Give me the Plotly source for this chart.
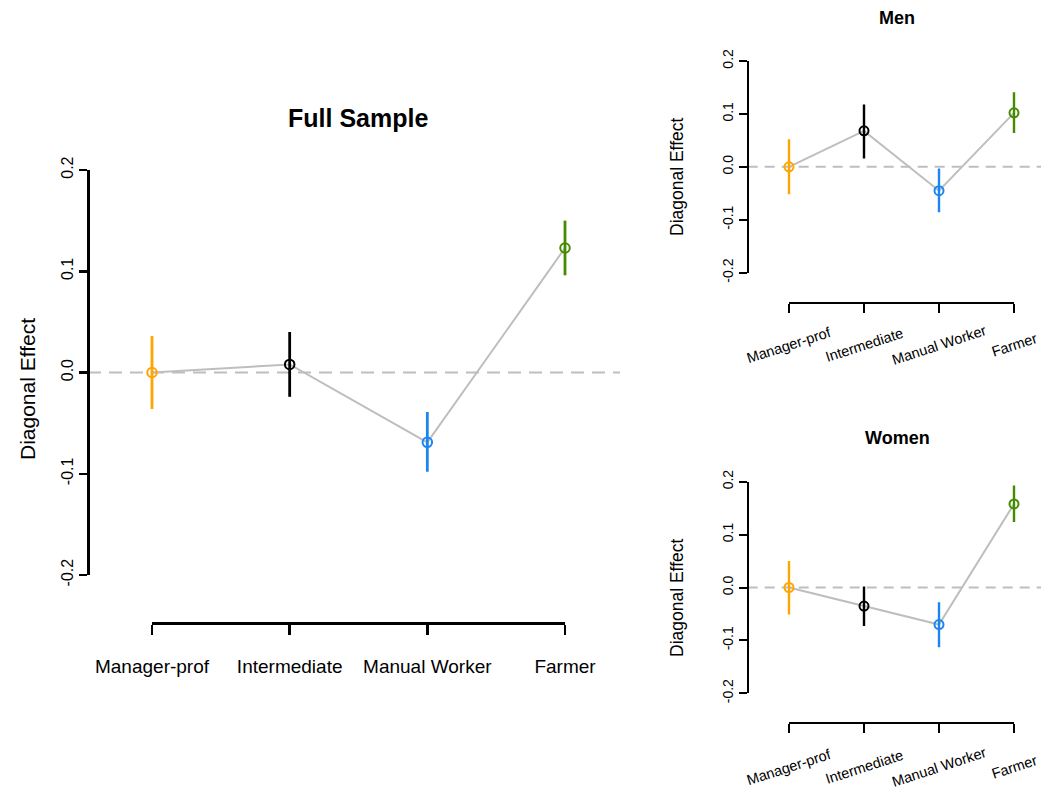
import plotly.graph_objects as go

# ---------------- data ----------------
categories = ["Manager-prof", "Intermediate", "Manual Worker", "Farmer"]
cat_colors = ["#FFA500", "#000000", "#1C86EE", "#458B00"]
y_ticks = [-0.2, -0.1, 0.0, 0.1, 0.2]
y_tick_labels = ["-0.2", "-0.1", "0.0", "0.1", "0.2"]

full_est = [0.000, 0.008, -0.069, 0.123]
full_lo = [-0.036, -0.024, -0.098, 0.096]
full_hi = [0.036, 0.040, -0.039, 0.150]

men_est = [0.000, 0.068, -0.045, 0.102]
men_lo = [-0.052, 0.016, -0.086, 0.064]
men_hi = [0.052, 0.118, -0.003, 0.141]

women_est = [0.000, -0.035, -0.070, 0.158]
women_lo = [-0.051, -0.073, -0.113, 0.124]
women_hi = [0.050, 0.002, -0.028, 0.193]

# ---------------- layout helpers ----------------
W, H = 1041, 791
FONT = "Liberation Sans, Arial, Helvetica, sans-serif"
GREY = "#BEBEBE"


def fx(px):
    return px / W


def fy(py):
    return 1 - py / H


idx = list(range(len(categories)))

fig = go.Figure()

panels = [
    dict(est=full_est, lo=full_lo, hi=full_hi, xa="x", ya="y", xv="x4",
         yaxis_px=88, ytop=170, ybot=575, xfirst=152, xlast=565, xright=620,
         xline_py=623, lw=2.5, ticklen=8, tickfont=16, msize=9.5, ebw=2.8,
         dash="13px,8px"),
    dict(est=men_est, lo=men_lo, hi=men_hi, xa="x2", ya="y2", xv="x5",
         yaxis_px=747.7, ytop=61, ybot=272.7, xfirst=789, xlast=1014, xright=W,
         xline_py=302.7, lw=2, ticklen=8, tickfont=14, msize=9, ebw=2.4,
         dash="10px,7px"),
    dict(est=women_est, lo=women_lo, hi=women_hi, xa="x3", ya="y3", xv="x6",
         yaxis_px=747.7, ytop=481.7, ybot=693.3, xfirst=789, xlast=1014, xright=W,
         xline_py=723.3, lw=2, ticklen=8, tickfont=14, msize=9, ebw=2.4,
         dash="10px,7px"),
]

layout_axes = {}
shapes = []
for k, p in enumerate(panels):
    n = len(categories) - 1
    unit = (p["xlast"] - p["xfirst"]) / n
    rng = [-(p["xfirst"] - p["yaxis_px"]) / unit, n + (p["xright"] - p["xlast"]) / unit]

    # connecting grey line
    fig.add_trace(go.Scatter(x=idx, y=p["est"], mode="lines",
                             line=dict(color=GREY, width=2),
                             xaxis=p["xa"], yaxis=p["ya"], showlegend=False,
                             hoverinfo="skip"))
    # error bars + points
    for i, cat in enumerate(categories):
        fig.add_trace(go.Scatter(
            x=[idx[i]], y=[p["est"][i]], mode="markers",
            marker=dict(symbol="circle-open", size=p["msize"], color=cat_colors[i],
                        line=dict(width=2, color=cat_colors[i])),
            error_y=dict(type="data", symmetric=False,
                         array=[p["hi"][i] - p["est"][i]],
                         arrayminus=[p["est"][i] - p["lo"][i]],
                         color=cat_colors[i], thickness=p["ebw"], width=0),
            xaxis=p["xa"], yaxis=p["ya"], showlegend=False, name=cat,
            cliponaxis=False))
    # dummy trace to create visible category axis
    fig.add_trace(go.Scatter(x=idx, y=[None] * len(idx), mode="markers",
                             xaxis=p["xv"], yaxis=p["ya"], showlegend=False,
                             hoverinfo="skip"))

    xa_name = "xaxis" if p["xa"] == "x" else "xaxis" + p["xa"][1:]
    ya_name = "yaxis" if p["ya"] == "y" else "yaxis" + p["ya"][1:]
    xv_name = "xaxis" + p["xv"][1:]

    layout_axes[xa_name] = dict(domain=[fx(p["yaxis_px"]), min(1, fx(p["xright"]))],
                                range=rng, visible=False, anchor=p["ya"],
                                fixedrange=True, automargin=False)
    layout_axes[ya_name] = dict(domain=[fy(p["ybot"]), fy(p["ytop"])],
                                range=[-0.2, 0.2], anchor="free",
                                position=fx(p["yaxis_px"]),
                                showline=True, linecolor="black", linewidth=p["lw"],
                                ticks="outside", ticklen=p["ticklen"], tickwidth=p["lw"],
                                tickcolor="black", tickvals=y_ticks,
                                ticktext=y_tick_labels, tickangle=-90,
                                tickfont=dict(family=FONT, size=p["tickfont"], color="black"),
                                showgrid=False, zeroline=False, fixedrange=True,
                                automargin=False)
    xv = dict(domain=[fx(p["xfirst"]), fx(p["xlast"])], range=[0, n],
              anchor="free", position=fy(p["xline_py"]),
              showline=True, linecolor="black", linewidth=p["lw"],
              ticks="outside", ticklen=10 if k == 0 else 9, tickwidth=p["lw"],
              tickcolor="black", tickvals=idx, showgrid=False, zeroline=False,
              fixedrange=True, automargin=False)
    if k == 0:
        xv.update(ticktext=categories, tickangle=0, ticklabelstandoff=16,
                  tickfont=dict(family=FONT, size=19, color="black"))
    else:
        xv.update(showticklabels=False)
    layout_axes[xv_name] = xv

    shapes.append(dict(type="line", xref=p["xa"] + " domain", yref=p["ya"],
                       x0=0, x1=1, y0=0, y1=0,
                       line=dict(color=GREY, width=2, dash=p["dash"]), layer="below"))


def ann(text, px, py, size, angle=0):
    return dict(text=text, x=fx(px), y=fy(py), xref="paper", yref="paper",
                xanchor="center", yanchor="middle", textangle=angle,
                showarrow=False, font=dict(family=FONT, size=size, color="black"))


annotations = [
    ann("<b>Full Sample</b>", 358, 118, 25),
    ann("<b>Men</b>", 897, 18, 18),
    ann("<b>Women</b>", 897, 438, 18),
    ann("Diagonal Effect", 27, 389, 21, -90),
    ann("Diagonal Effect", 677, 177, 17.5, -90),
    ann("Diagonal Effect", 677, 598, 17.5, -90),
]
for xv, label_py in (("x5", 345), ("x6", 767)):
    for i, cat in enumerate(categories):
        annotations.append(dict(text=cat, x=idx[i], y=fy(label_py), xref=xv, yref="paper",
                                textangle=-18, showarrow=False, xanchor="center",
                                yanchor="middle",
                                font=dict(family=FONT, size=14.5, color="black")))

fig.update_layout(width=W, height=H, autosize=False,
                  margin=dict(l=0, r=0, t=0, b=0, pad=0, autoexpand=False),
                  paper_bgcolor="white", plot_bgcolor="rgba(0,0,0,0)",
                  showlegend=False, shapes=shapes, annotations=annotations,
                  hovermode=False, **layout_axes)

fig.write_html(
    "out.html",
    config={"displayModeBar": False, "staticPlot": True},
    post_script="document.body.style.margin='0px';document.body.style.overflow='hidden';",
)
